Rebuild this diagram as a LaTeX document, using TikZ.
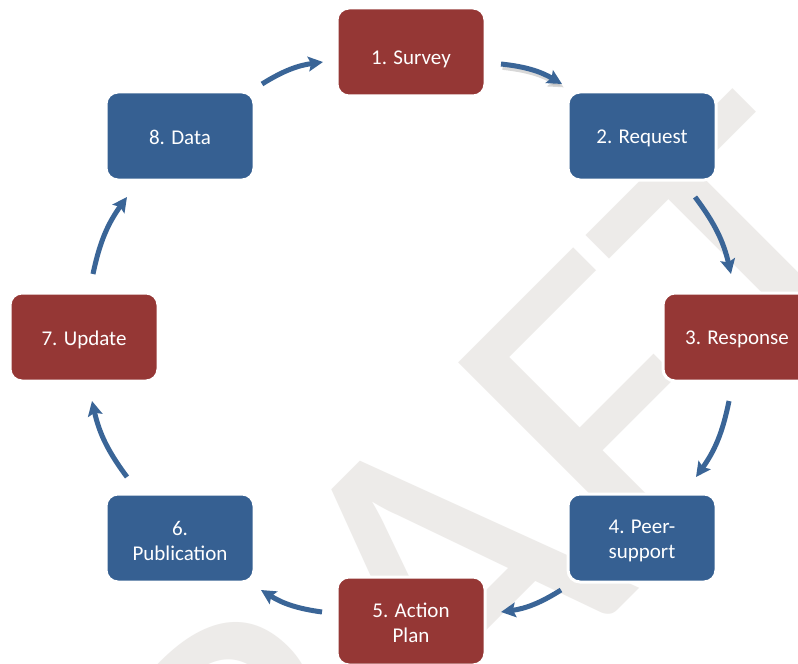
\documentclass[tikz,border=0pt]{standalone}
\usepackage{fontspec}
\setmainfont{Carlito}
\newfontfamily\wmfont{Carlito}
\usetikzlibrary{arrows.meta}
\definecolor{boxred}{HTML}{953735}
\definecolor{boxblue}{HTML}{366092}
\definecolor{arrblue}{HTML}{3A6597}
\definecolor{wmgray}{RGB}{237,235,233}
\newcommand{\lift}[1]{\rule{0pt}{#1}}
\begin{document}
\begin{tikzpicture}[x=0.75pt,y=-0.75pt,
  stepbox/.style={rounded corners=9pt, draw=white, line width=2.25pt,
    minimum width=111pt, minimum height=66pt, text=white,
    font=\fontsize{15.75}{18.75}\selectfont, align=center, inner sep=0pt},
  redbox/.style={stepbox, fill=boxred},
  bluebox/.style={stepbox, fill=boxblue},
  arr/.style={draw=arrblue, line width=3.75pt,
    -{Stealth[length=11pt,width=11pt,inset=2pt]}, bend left=12},
  arrshadow/.style={draw=black!30, line width=3.75pt, opacity=0.5,
    -{Stealth[length=11pt,width=11pt,inset=2pt]}, bend left=12,
    transform canvas={xshift=1.2pt,yshift=-2.5pt}}]
\useasboundingbox (0,0) rectangle (798,663);
\clip (0,0) rectangle (798,663);
\fill[white] (0,0) rectangle (798,663);
% watermark
\node[rotate=45, anchor=base west, inner sep=0pt, text=wmgray,
  font=\wmfont\fontsize{336}{336}\selectfont] (wm) at (90,1138) {DRAFT};
% boxes
\node[redbox]  (n1) at (411,52)  {\lift{21pt}1. Survey};
\node[bluebox] (n2) at (642,136) {\lift{14pt}2. Request};
\node[redbox]  (n3) at (737,337) {\lift{14pt}3. Response};
\node[bluebox] (n4) at (642,538) {\lift{14.5pt}4. Peer-\\support};
\node[redbox]  (n5) at (411,621) {\lift{14pt}5. Action\\Plan};
\node[bluebox] (n6) at (180,538) {\lift{15pt}6.\\Publication};
\node[redbox]  (n7) at (84,337)  {\lift{15pt}7. Update};
\node[bluebox] (n8) at (180,136) {\lift{13pt}8. Data};
% arrow end points
\coordinate (a12s) at (501,64);  \coordinate (a12e) at (562,84);
\coordinate (a23s) at (695,197); \coordinate (a23e) at (731,274);
\coordinate (a34s) at (729,401); \coordinate (a34e) at (696,477);
\coordinate (a45s) at (561,590); \coordinate (a45e) at (501,612);
\coordinate (a56s) at (322,612); \coordinate (a56e) at (261,590);
\coordinate (a67s) at (127,477); \coordinate (a67e) at (92,401);
\coordinate (a78s) at (93,274);  \coordinate (a78e) at (127,197);
\coordinate (a81s) at (262,84);  \coordinate (a81e) at (323,62);
% arrows
\draw[arrshadow] (a12s) to (a12e);
\draw[arr] (a12s) to (a12e);
\draw[arr] (a23s) to (a23e);
\draw[arr] (a34s) to (a34e);
\draw[arr] (a45s) to (a45e);
\draw[arr] (a56s) to (a56e);
\draw[arr] (a67s) to (a67e);
\draw[arr] (a78s) to (a78e);
\draw[arr] (a81s) to (a81e);
\end{tikzpicture}
\end{document}
